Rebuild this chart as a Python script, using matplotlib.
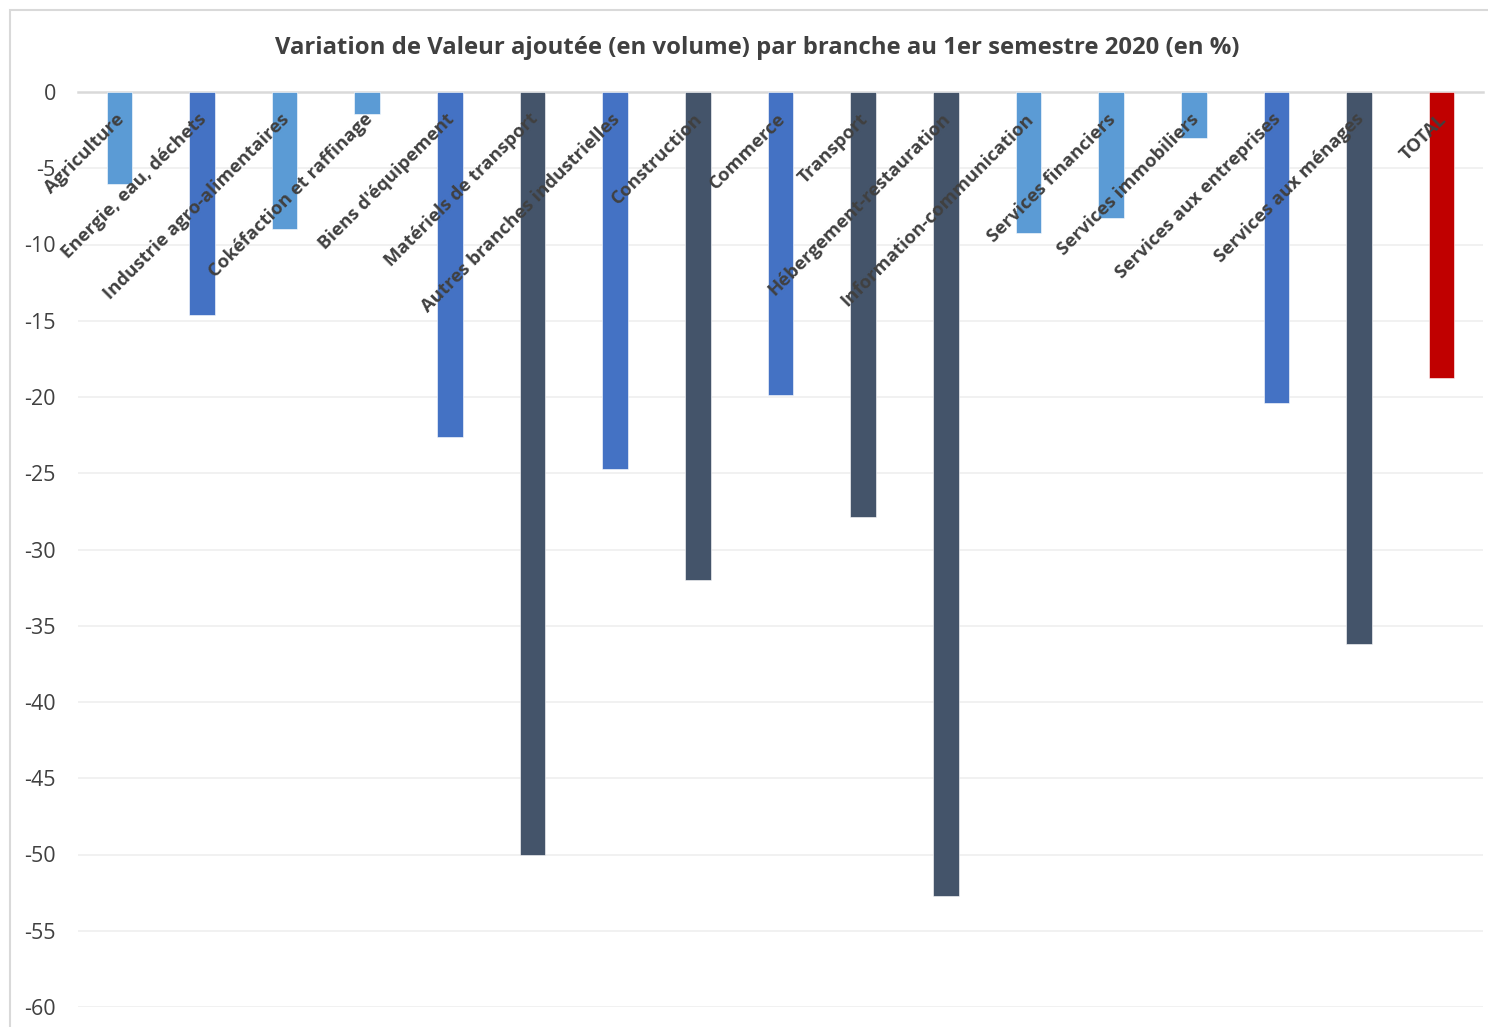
import matplotlib.pyplot as plt
from matplotlib.patches import Rectangle

branches = [
    "Agriculture", "Energie, eau, déchets", "Industrie agro-alimentaires",
    "Cokéfaction et raffinage", "Biens d'équipement", "Matériels de transport",
    "Autres branches industrielles", "Construction", "Commerce", "Transport",
    "Hébergement-restauration", "Information-communication",
    "Services financiers", "Services immobiliers", "Services aux entreprises",
    "Services aux ménages", "TOTAL",
]
variation = [-6.0, -14.6, -9.0, -1.45, -22.6, -50.0, -24.7, -32.0, -19.9,
             -27.9, -52.7, -9.25, -8.25, -3.0, -20.4, -36.2, -18.75]
groups = ["light", "mid", "light", "light", "mid", "dark", "mid", "dark", "mid",
          "dark", "dark", "light", "light", "light", "mid", "dark", "total"]

palette = {"light": "#5B9BD5", "mid": "#4472C4", "dark": "#44546A", "total": "#C00000"}
text_color = "#404040"

plt.rcParams["font.family"] = ["Open Sans", "DejaVu Sans"]
plt.rcParams["axes.unicode_minus"] = False

fig = plt.figure(figsize=(14.88, 10.27), dpi=100)
fig.patches.append(Rectangle((10 / 1488, -0.1), 1.2, 1 - 10 / 1027 + 0.1,
                             transform=fig.transFigure, fill=False,
                             edgecolor="#D9D9D9", linewidth=1.5))

ax = fig.add_axes([78 / 1488, 1 - 1007 / 1027, 1405 / 1488, 915 / 1027])

x = list(range(len(branches)))
ax.bar(x, variation, width=0.31, color=[palette[g] for g in groups],
       edgecolor="white", linewidth=0.4, zorder=3)

ax.set_xlim(-0.5, len(branches) - 0.5)
ax.set_ylim(-60, 0)
ax.set_yticks(range(-60, 1, 5))
ax.tick_params(axis="y", length=0, pad=16, labelsize=15.5, labelcolor=text_color)
ax.set_xticks([])
ax.grid(axis="y", color="#F0F0F0", linewidth=1.3, zorder=0)
for s in ["left", "right", "bottom"]:
    ax.spines[s].set_visible(False)
ax.spines["top"].set_color("#D9D9D9")
ax.spines["top"].set_linewidth(1.8)

for i, name in enumerate(branches):
    ax.annotate(name, xy=(i, 0), xytext=(-3, -13), textcoords="offset points",
                rotation=45, rotation_mode="anchor", ha="right", va="top",
                fontsize=13.3, fontweight="bold", color=text_color, zorder=4)

fig.text(0.509, 1 - 48 / 1027,
         "Variation de Valeur ajoutée (en volume) par branche au 1er semestre 2020 (en %)",
         ha="center", va="center", fontsize=17.2, fontweight="bold",
         color=text_color)

fig.savefig("out.png", dpi=100)
